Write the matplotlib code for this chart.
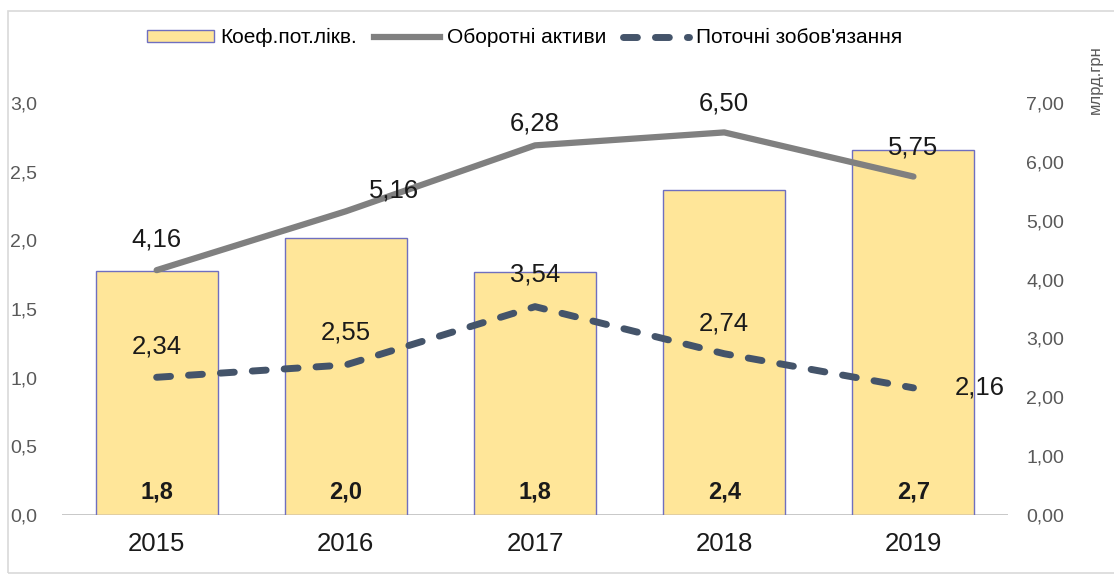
import matplotlib.pyplot as plt
import numpy as np
from matplotlib.lines import Line2D
from matplotlib.patches import Patch, Rectangle

plt.rcParams['font.family'] = ['Liberation Sans', 'DejaVu Sans']

years = ['2015', '2016', '2017', '2018', '2019']
assets = [4.16, 5.16, 6.28, 6.50, 5.75]          # Оборотні активи, млрд.грн
liabilities = [2.34, 2.55, 3.54, 2.74, 2.16]     # Поточні зобов'язання, млрд.грн
ratio = [1.78, 2.02, 1.77, 2.37, 2.66]           # Коеф.пот.лікв.

# label offsets (points) for each series
asset_off = [(0, 22), (35, 15), (0, 16), (0, 21), (0, 21)]
liab_off = [(0, 22), (0, 23), (0, 23), (0, 22), (30, 0)]


def fmt(v, nd):
    return f'{v:.{nd}f}'.replace('.', ',')


fig = plt.figure(figsize=(11.14, 5.75), dpi=100)
ax = fig.add_axes([0.0557, 0.1043, 0.8492, 0.7166])
ax2 = ax.twinx()

x = np.arange(len(years))
bar_color = '#FFE699'
edge_color = '#6F6FC0'
ax.bar(x, ratio, 0.645, color=bar_color, edgecolor=edge_color,
       linewidth=1.0, zorder=2)
for xi, v in zip(x, ratio):
    ax.text(xi, 0.17, fmt(v, 1), ha='center', va='center',
            fontsize=17, fontweight='bold', color='#1a1a1a', zorder=5)

ax2.plot(x, assets, color='#808080', lw=4.5, solid_capstyle='round', zorder=3)
line_l, = ax2.plot(x, liabilities, color='#44546A', lw=5,
                   dash_capstyle='round', zorder=3)
line_l.set_dashes((2.0, 2.6))

for xi, v, off in zip(x, assets, asset_off):
    ax2.annotate(fmt(v, 2), (xi, v), xytext=off, textcoords='offset points',
                 ha='center', va='center', fontsize=18.5, color='#1a1a1a')
for xi, v, off in zip(x, liabilities, liab_off):
    ax2.annotate(fmt(v, 2), (xi, v), xytext=off, textcoords='offset points',
                 ha='left' if off[0] else 'center', va='center',
                 fontsize=18.5, color='#1a1a1a')

ax.set_xlim(-0.5, 4.5)
ax.set_ylim(0, 3.0)
ax2.set_ylim(0, 7.0)
ax.set_yticks(np.arange(0, 3.01, 0.5))
ax.set_yticklabels([fmt(v, 1) for v in np.arange(0, 3.01, 0.5)])
ax2.set_yticks(np.arange(0, 7.01, 1))
ax2.set_yticklabels([fmt(v, 2) for v in np.arange(0, 7.01, 1)])
ax.set_xticks(x)
ax.set_xticklabels(years)

ax.tick_params(axis='y', length=0, pad=18, labelsize=14, labelcolor='#595959')
ax2.tick_params(axis='y', length=0, pad=13, labelsize=14, labelcolor='#595959')
ax.tick_params(axis='x', length=0, pad=12, labelsize=18.5, labelcolor='#1a1a1a')

for a in (ax, ax2):
    for s in ('top', 'left', 'right', 'bottom'):
        a.spines[s].set_visible(False)
ax.axhline(0, color='#BFBFBF', lw=1.2, zorder=1)

fig.text(0.983, 0.862, 'млрд.грн', rotation=90, ha='center', va='center',
         fontsize=12, color='#595959')

handles = [Patch(facecolor=bar_color, edgecolor=edge_color, lw=1.0),
           Line2D([], [], color='#808080', lw=4.5),
           Line2D([], [], color='#44546A', lw=5, dashes=(2.0, 2.6),
                  dash_capstyle='round')]
labels = ['Коеф.пот.лікв.', 'Оборотні активи', "Поточні зобов'язання"]
fig.legend(handles, labels, loc='center', bbox_to_anchor=(0.471, 0.934),
           ncol=3, frameon=False, handlelength=3.2, handleheight=0.55,
           handletextpad=0.3, columnspacing=0.8,
           prop={'size': 15})

# light outer frame
fig.patches.append(Rectangle((8 / 1114, 2 / 575), 1.2, 1 - 13 / 575,
                             transform=fig.transFigure, fill=False,
                             edgecolor='#D9D9D9', lw=1.2))

fig.savefig('out.png', dpi=100)
